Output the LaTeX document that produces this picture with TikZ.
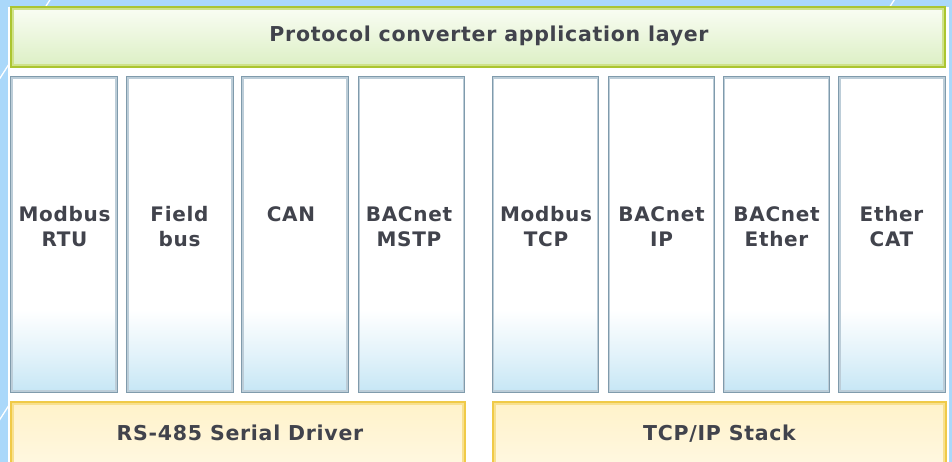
\documentclass[tikz,border=0pt]{standalone}
\usepackage{fontspec}
\setmainfont{DejaVu Sans}
\newfontfamily\lblfont{DejaVu Sans}[LetterSpace=3.5]
\definecolor{bgblue}{HTML}{AAD8FA}
\definecolor{txt}{HTML}{41434C}
\definecolor{colbd}{HTML}{809BAC}
\definecolor{colin}{HTML}{BCCDD8}
\definecolor{colbot}{HTML}{C6E6F5}
\definecolor{grbd}{HTML}{ABC530}
\definecolor{grin}{HTML}{CFE28A}
\definecolor{grtop}{HTML}{FAFDF4}
\definecolor{grbot}{HTML}{DCEFC4}
\definecolor{yebd}{HTML}{F0CA48}
\definecolor{yein}{HTML}{F8E08E}
\definecolor{yetop}{HTML}{FFF2CA}
\definecolor{yebot}{HTML}{FFF8E2}
\pgfdeclareverticalshading{colshade}{100bp}{color(0bp)=(colbot); color(25bp)=(colbot); color(31bp)=(colbot!50!white); color(38bp)=(white); color(100bp)=(white)}
\tikzset{
  colbox/.style={rectangle, draw=colbd, line width=1.8pt, shade, shading=colshade,
    minimum width=106pt, minimum height=315pt, inner sep=0pt},
  greenbar/.style={rectangle, draw=grbd, line width=2.2pt, top color=grtop, bottom color=grbot,
    inner sep=0pt},
  yellowbar/.style={rectangle, draw=yebd, line width=2.2pt, top color=yetop, bottom color=yebot,
    inner sep=0pt},
  coltext/.style={anchor=north, inner sep=0pt, align=center, text=txt,
    font=\lblfont\fontsize{20}{25}\selectfont\bfseries},
  bartext/.style={anchor=base, inner sep=0pt, text=txt,
    font=\lblfont\fontsize{20.5}{25}\selectfont\bfseries},
  bgline/.style={white, line width=1.3pt}
}
\begin{document}
\begin{tikzpicture}[x=1pt,y=-1pt]
\clip (0,0) rectangle (952,462);
\fill[bgblue] (0,0) rectangle (952,462);
\draw[bgline] (-5,86) -- (55,-8);
\draw[bgline] (880,22) -- (900,-9);
\draw[bgline] (-5,427) -- (20,388);
\fill[white] (7.5,7) rectangle (949,470);

% top bar
\node[greenbar, minimum width=934pt, minimum height=60pt] (top) at (478,37) {};
\draw[grin, line width=2pt] ([shift={(2.8,2.8)}]top.north west) rectangle ([shift={(-2.8,-2.8)}]top.south east);
\node[bartext] (ttl) at (489,42) {Protocol converter application layer};

% columns
\node[colbox] (c1) at (64,234.5) {};
\node[colbox] (c2) at (180,234.5) {};
\node[colbox] (c3) at (295,234.5) {};
\node[colbox] (c4) at (411.5,234.5) {};
\node[colbox] (c5) at (545.5,234.5) {};
\node[colbox] (c6) at (661.5,234.5) {};
\node[colbox] (c7) at (776.5,234.5) {};
\node[colbox] (c8) at (892,234.5) {};
\foreach \n in {c1,c2,c3,c4,c5,c6,c7,c8}
  \draw[colin, line width=1.6pt] ([shift={(2,2)}]\n.north west) rectangle ([shift={(-2,-2)}]\n.south east);

\node[coltext] (t1) at (64.5,206.5) {Modbus\\RTU};
\node[coltext] (t2) at (179.5,206.5) {Field\\bus};
\node[coltext] (t3) at (291,206.5) {CAN};
\node[coltext] (t4) at (409,206.5) {BACnet\\MSTP};
\node[coltext] (t5) at (546,206.5) {Modbus\\TCP};
\node[coltext] (t6) at (661.5,206.5) {BACnet\\IP};
\node[coltext] (t7) at (776.5,206.5) {BACnet\\Ether};
\node[coltext] (t8) at (891.5,206.5) {Ether\\CAT};

% bottom bars
\node[yellowbar, minimum width=454pt, minimum height=68pt] (serial) at (238,436) {};
\node[yellowbar, minimum width=453pt, minimum height=68pt] (tcpip) at (719.5,436) {};
\foreach \n in {serial,tcpip}
  \draw[yein, line width=2pt] ([shift={(2.8,2.8)}]\n.north west) rectangle ([shift={(-2.8,-2.8)}]\n.south east);
\node[bartext] (s1) at (240,440) {RS-485 Serial Driver};
\node[bartext] (s2) at (719.5,440) {TCP/IP Stack};
\end{tikzpicture}
\end{document}
